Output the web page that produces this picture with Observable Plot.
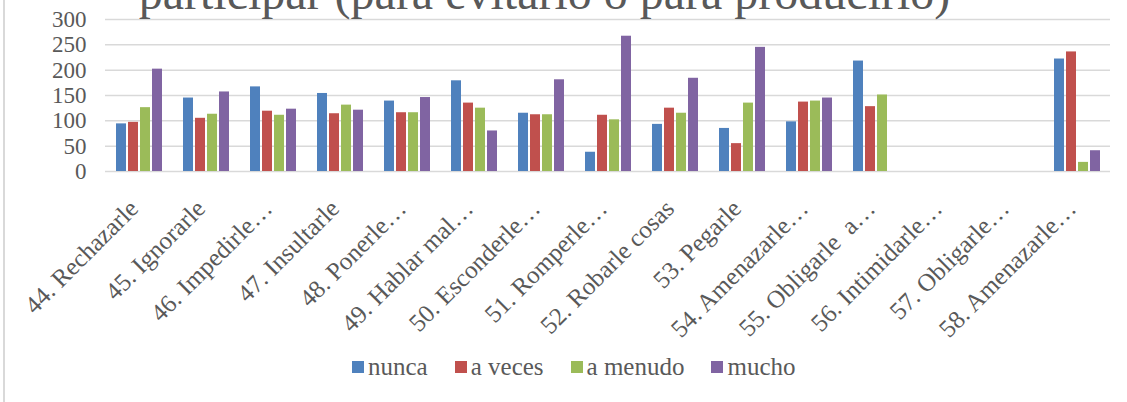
<!DOCTYPE html>
<html>
<head>
<meta charset="utf-8">
<script src="https://cdn.jsdelivr.net/npm/d3@7"></script>
<script src="https://cdn.jsdelivr.net/npm/@observablehq/plot@0.6"></script>
<style>
  html, body { margin: 0; padding: 0; background: #fff; }
  #wrap { position: relative; width: 1127px; height: 402px; overflow: hidden; background: #fff;
          font-family: "Liberation Serif", "Times New Roman", serif; color: #595959; }
  #border { position: absolute; left: 3px; top: 0; width: 2px; height: 402px; background: #d9d9d9; }
  #title { position: absolute; left: -19px; width: 1127px; text-align: center; top: -31px;
           font-family: "Liberation Serif", "Times New Roman", serif;
           font-size: 48px; line-height: 48px; white-space: nowrap; color: #595959; }
  #chart { position: absolute; left: 0; top: 0; }
  #chart svg text { white-space: pre; }
  #legend { position: absolute; top: 353px; left: 352px; display: flex; align-items: center;
            font-family: "Liberation Serif", "Times New Roman", serif; color: #595959;
            font-size: 25px; line-height: 28px; white-space: nowrap; }
  .item { display: flex; align-items: center; margin-right: 27px; }
  .sw { width: 12px; height: 12px; margin-right: 4px; }
</style>
</head>
<body>
<div id="wrap">
  <div id="border"></div>
  <div id="chart"></div>
  <div id="title">participar (para evitarlo o para producirlo)</div>
  <div id="legend"></div>
</div>
<script>
const categories = ["44. Rechazarle","45. Ignorarle","46. Impedirle…","47. Insultarle","48. Ponerle…","49. Hablar mal…","50. Esconderle…","51. Romperle…","52. Robarle cosas","53. Pegarle","54. Amenazarle…","55. Obligarle  a…","56. Intimidarle…","57. Obligarle…","58. Amenazarle…"];
const seriesNames = ["nunca","a veces","a menudo","mucho"];
const colors = ["#4F81BD","#C0504D","#9BBB59","#8064A2"];
const nunca   = [94,145,167,154,139,179,115,38,93,85,98,218,0,0,222];
const aVeces  = [97,105,119,114,116,135,112,111,125,55,137,128,0,0,236];
const aMenudo = [126,113,111,131,116,125,112,102,115,135,139,151,0,0,18];
const mucho   = [202,157,123,121,146,80,181,267,184,245,145,0,0,0,41];
const yTicks = [0,50,100,150,200,250,300];

const seriesValues = [nunca, aVeces, aMenudo, mucho];
const rows = [];
categories.forEach((c, i) => {
  seriesNames.forEach((s, j) => {
    rows.push({cat: c, series: s, value: seriesValues[j][i]});
  });
});

const hasAxisMarks = typeof Plot.axisFx === "function";
const fxOpts = hasAxisMarks
  ? {domain: categories, padding: 0}
  : {domain: categories, padding: 0, tickRotate: -45, tickSize: 0, tickPadding: 33, label: null};

const marks = [
  Plot.ruleY(yTicks, {stroke: "#d9d9d9", strokeWidth: 1.5}),
  Plot.barY(rows, {x: "series", y: "value", fill: "series"})
];
if (hasAxisMarks) {
  marks.push(Plot.axisFx({anchor: "bottom", tickRotate: -45, tickSize: 0, tickPadding: 33, dx: -5, fontSize: 25, label: null}));
}

const chart = Plot.plot({
  width: 1127,
  height: 402,
  marginLeft: 101,
  marginRight: 14,
  marginTop: 19,
  marginBottom: 231,
  style: {fontFamily: "'Liberation Serif', 'Times New Roman', serif", fontSize: "23px", color: "#595959", background: "transparent", overflow: "visible"},
  facet: {data: rows, x: "cat"},
  fx: fxOpts,
  x: {domain: seriesNames, paddingInner: 0.19, paddingOuter: 0.81, axis: null},
  y: {domain: [0, 300], ticks: yTicks, tickSize: 0, tickPadding: 19, label: null},
  color: {domain: seriesNames, range: colors},
  marks
});
if (!hasAxisMarks) {
  chart.querySelectorAll('[aria-label^="fx-axis"] text').forEach(t => t.style.fontSize = "25px");
}
document.getElementById("chart").appendChild(chart);

const legend = document.getElementById("legend");
seriesNames.forEach((s, j) => {
  const item = document.createElement("div");
  item.className = "item";
  const sw = document.createElement("div");
  sw.className = "sw";
  sw.style.background = colors[j];
  const t = document.createElement("span");
  t.textContent = s;
  item.appendChild(sw);
  item.appendChild(t);
  legend.appendChild(item);
});
</script>
</body>
</html>
